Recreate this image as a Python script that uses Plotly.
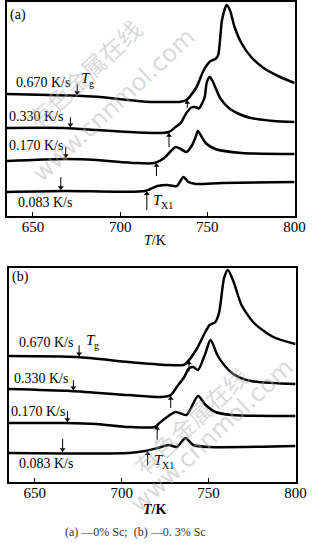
import numpy as np
import plotly.graph_objects as go

# ---------------- data (heat flow, arbitrary units, curves offset) ----------------
rates = ["0.670 K/s", "0.330 K/s", "0.170 K/s", "0.083 K/s"]

# panel (a) 0% Sc
Ta_670 = [635, 658.8, 670, 686.5, 704.8, 714.2, 723.6, 734.7, 738, 743.5, 747.4, 749, 751.8, 754.6, 756.2, 758.4, 761, 762.9, 765.6, 769.5, 775.1, 782.3, 791.7, 800]
Sa_670 = [122, 121, 120.5, 119.3, 116, 114.3, 114, 114.3, 116, 128, 144, 149, 155, 157, 161, 196, 211, 206, 189, 173, 159, 148, 139, 133]
Ta_330 = [635, 668.2, 686.5, 704.8, 719.7, 728, 732.5, 734.7, 738, 740.8, 743, 745.2, 746.8, 748.5, 749.6, 751.3, 753, 754, 757.3, 762.3, 769.5, 775.1, 787.8, 800]
Sa_330 = [88, 88, 86, 84, 83, 84, 90, 93, 103, 108.5, 109, 107.5, 112, 119, 133, 139, 135, 131, 118, 108, 101, 98, 95, 94]
Ta_170 = [635, 668.2, 686.5, 708.6, 719.7, 725.3, 729.1, 731.9, 734.7, 738, 741.3, 743.5, 744.6, 746.8, 749, 754.6, 769.5, 800]
Sa_170 = [55, 57, 56, 53, 53, 58, 65, 69, 67, 64, 71, 80, 85, 79, 73, 67, 63, 62]
Ta_083 = [635, 668.2, 697.6, 714.2, 721.4, 726.9, 732.5, 736.3, 739.1, 743.5, 758.4, 800]
Sa_083 = [24, 25, 24.3, 25, 30, 31, 30, 39, 34, 32, 33, 34]

# panel (b) 0.3% Sc
Tb_670 = [635, 674.4, 703.9, 726.1, 735.6, 737.2, 742.8, 747.8, 750.6, 753.9, 756.1, 758.9, 761.1, 764.4, 768.9, 776.1, 787.2, 800]
Sb_670 = [126, 125, 120, 117, 117, 119, 132, 149, 157, 160, 170, 204, 212, 200, 177, 159, 145, 138]
Tb_330 = [635, 670.6, 703.9, 722.8, 728.3, 731.7, 735.6, 738.9, 741.1, 743.9, 747.8, 751.1, 755, 758.9, 765, 774.4, 800]
Sb_330 = [93, 91, 87, 85, 87, 95, 104, 114, 115, 112, 127, 142, 127, 117, 107, 101, 98]
Tb_170 = [635, 667.2, 685.6, 703.9, 718.9, 721.7, 726.1, 731.1, 737.2, 743.9, 748.3, 753.9, 763.3, 800]
Sb_170 = [59, 59, 58, 55, 55, 59, 65, 70, 67, 86, 77, 70, 67, 66]
Tb_083 = [635, 703.9, 713.3, 720.6, 727.2, 731.7, 736.7, 741.1, 750.6, 800]
Sb_083 = [29, 29, 31, 34, 37, 35, 44, 37, 35, 36]

# characteristic temperatures (order: 0.670, 0.330, 0.170, 0.083 K/s)
Tg_a = [675.4, 671.5, 668.8, 666.0]
Tx1_a = [738.5, 728.0, 720.8, 715.3]
Tg_b = [675.5, 672.2, 668.8, 666.0]
Tx1_b = [738.7, 728.2, 720.4, 714.9]

x_ticks = [650, 700, 750, 800]

# ---------------- figure ----------------
FONT = "Liberation Serif"
fig = go.Figure()

panels = [
    dict(xa="x", ya="y", curves=[(Ta_670, Sa_670), (Ta_330, Sa_330), (Ta_170, Sa_170), (Ta_083, Sa_083)],
         Tg=Tg_a, Tx=Tx1_a),
    dict(xa="x2", ya="y2", curves=[(Tb_670, Sb_670), (Tb_330, Sb_330), (Tb_170, Sb_170), (Tb_083, Sb_083)],
         Tg=Tg_b, Tx=Tx1_b),
]

tg_len = [12, 11, 12, 14]
tx_len_a = [9, 15, 14, 20]
tx_len_b = [12, 13, 15, 15]


def arrow(xa, ya, xv, y_head, y_tail, up):
    fig.add_trace(go.Scatter(x=[xv, xv], y=[y_tail, y_head], mode="lines", xaxis=xa, yaxis=ya,
                             line=dict(color="black", width=1), showlegend=False, hoverinfo="skip"))
    fig.add_trace(go.Scatter(x=[xv], y=[y_head + (-2 if up else 2)], mode="markers", xaxis=xa, yaxis=ya,
                             marker=dict(symbol="triangle-up" if up else "triangle-down", size=5,
                                         color="black", line=dict(width=0)),
                             showlegend=False, hoverinfo="skip"))


for pi, p in enumerate(panels):
    for ci, (T, S) in enumerate(p["curves"]):
        fig.add_trace(go.Scatter(x=T, y=S, mode="lines", xaxis=p["xa"], yaxis=p["ya"],
                                 line=dict(color="black", width=2.5, shape="spline", smoothing=0.7),
                                 showlegend=False, hoverinfo="skip"))
        yg = float(np.interp(p["Tg"][ci], T, S))
        arrow(p["xa"], p["ya"], p["Tg"][ci], yg + 1.5, yg + tg_len[ci], up=False)
        yx = float(np.interp(p["Tx"][ci], T, S))
        L = (tx_len_a if pi == 0 else tx_len_b)[ci]
        arrow(p["xa"], p["ya"], p["Tx"][ci], yx - 1.5, yx - L, up=True)

annotations = []


def lab(text, x, y, xref, yref, size=14, style="normal", xshift=0, yshift=0):
    annotations.append(dict(text=text, x=x, y=y, xref=xref, yref=yref, showarrow=False,
                            xanchor="left", yanchor="middle", xshift=xshift, yshift=yshift,
                            font=dict(family=FONT, size=size, color="black", style=style)))


def sym(sub, x, y, xref, yref):
    # italic T with a small subscript
    lab("T", x, y, xref, yref, size=15, style="italic")
    lab(sub, x, y, xref, yref, size=10, xshift=8, yshift=-5)


# panel (a)
lab(rates[0], 639.4, 134, "x", "y")
sym("g", 676.5, 138, "x", "y")
lab(rates[1], 635.3, 100, "x", "y")
lab(rates[2], 635.3, 71, "x", "y")
lab(rates[3], 640.5, 14, "x", "y")
sym("X1", 717.5, 16, "x", "y")
lab("(a)", 635.5, 201, "x", "y")
# panel (b)
lab(rates[0], 640, 140, "x2", "y2")
sym("g", 678.5, 142, "x2", "y2")
lab(rates[1], 637, 104, "x2", "y2")
lab(rates[2], 635.3, 71, "x2", "y2")
lab(rates[3], 640, 19, "x2", "y2")
sym("X1", 717.5, 22, "x2", "y2")
lab("(b)", 636, 205, "x2", "y2")

W, H = 322, 551


def py(ypix):
    return 1 - ypix / H


annotations.append(dict(text="<i>T</i>/K", x=160 / W, y=py(240), xref="paper", yref="paper",
                        showarrow=False, xanchor="center", yanchor="middle",
                        font=dict(family=FONT, size=14, color="black")))
annotations.append(dict(text="<b><i>T</i>/K</b>", x=160 / W, y=py(510), xref="paper", yref="paper",
                        showarrow=False, xanchor="center", yanchor="middle",
                        font=dict(family=FONT, size=14, color="black")))
annotations.append(dict(text="(a) —0% Sc;  (b) —0. 3% Sc", x=140 / W, y=py(532), xref="paper", yref="paper",
                        showarrow=False, xanchor="center", yanchor="middle",
                        font=dict(family=FONT, size=12, color="#333333")))

# faint watermark
wm = dict(showarrow=False, xref="paper", yref="paper", xanchor="center", yanchor="middle",
          textangle=-43, font=dict(family="Noto Sans CJK SC", size=24, color="rgba(170,170,170,0.45)"))
annotations.append(dict(wm, text="有色金属在线", x=87 / W, y=py(73)))
annotations.append(dict(wm, text="www.cnnmol.com", x=118 / W, y=py(105),
                        font=dict(family="DejaVu Sans", size=24, color="rgba(170,170,170,0.45)")))
annotations.append(dict(wm, text="有色金属在线", x=197 / W, y=py(420)))
annotations.append(dict(wm, text="www.cnnmol.com", x=220 / W, y=py(435),
                        font=dict(family="DejaVu Sans", size=24, color="rgba(170,170,170,0.45)")))

xcommon = dict(range=[635, 800], tickvals=x_ticks, ticktext=[str(v) for v in x_ticks],
               ticks="inside", ticklen=4, tickwidth=1, tickcolor="black",
               showline=True, linecolor="black", linewidth=1.5, mirror=True,
               showgrid=False, zeroline=False, ticklabelstandoff=-4,
               tickfont=dict(family=FONT, size=15, color="black"))
ycommon = dict(range=[0, 214], showticklabels=False, ticks="", showline=True, linecolor="black",
               linewidth=1.5, mirror=True, showgrid=False, zeroline=False)

fig.update_layout(
    width=W, height=H, margin=dict(l=0, r=0, t=0, b=0),
    paper_bgcolor="white", plot_bgcolor="white",
    xaxis=dict(xcommon, domain=[7 / W, 305 / W], anchor="y"),
    yaxis=dict(ycommon, domain=[py(216), py(2)], anchor="x"),
    xaxis2=dict(xcommon, domain=[9 / W, 306 / W], anchor="y2"),
    yaxis2=dict(ycommon, domain=[py(482), py(268)], anchor="x2"),
    annotations=annotations,
)

fig.write_html("out.html")
